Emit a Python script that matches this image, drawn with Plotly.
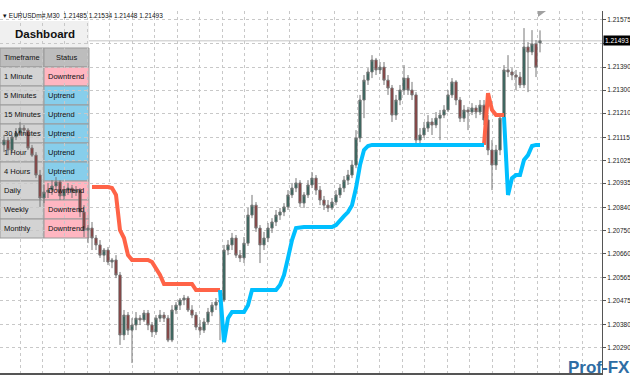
import plotly.graph_objects as go

symbol = "EURUSDm#,M30"

timeframes = ["1 Minute", "5 Minutes", "15 Minutes", "30 Minutes", "1 Hour",
              "4 Hours", "Daily", "Weekly", "Monthly"]
statuses = ["Downtrend", "Uptrend", "Uptrend", "Uptrend", "Uptrend",
            "Uptrend", "Downtrend", "Downtrend", "Downtrend"]

open_ = [1.21085, 1.21104, 1.21065, 1.21116, 1.21132, 1.21151, 1.21143, 1.21073, 1.21045, 1.20967,
         1.20877, 1.20900, 1.20908, 1.20924, 1.20940, 1.20885, 1.20908, 1.20916, 1.20900, 1.20908,
         1.20822, 1.20751, 1.20759, 1.20720, 1.20693, 1.20653, 1.20673, 1.20626, 1.20634, 1.20575,
         1.20340, 1.20418, 1.20359, 1.20379, 1.20406, 1.20399, 1.20426, 1.20379, 1.20352, 1.20406,
         1.20418, 1.20406, 1.20320, 1.20438, 1.20457, 1.20477, 1.20485, 1.20438, 1.20418, 1.20371,
         1.20359, 1.20391, 1.20430, 1.20457, 1.20469, 1.20477, 1.20673, 1.20693, 1.20720, 1.20653,
         1.20642, 1.20700, 1.20810, 1.20849, 1.20759, 1.20693, 1.20720, 1.20759, 1.20783, 1.20810,
         1.20822, 1.20842, 1.20889, 1.20916, 1.20936, 1.20857, 1.20889, 1.20928, 1.20955, 1.20908,
         1.20869, 1.20849, 1.20838, 1.20861, 1.20889, 1.20916, 1.20947, 1.20967, 1.21006, 1.21112,
         1.21261, 1.21339, 1.21371, 1.21418, 1.21379, 1.21390, 1.21339, 1.21308, 1.21202, 1.21261,
         1.21300, 1.21347, 1.21300, 1.21281, 1.21104, 1.21124, 1.21151, 1.21175, 1.21163, 1.21190,
         1.21202, 1.21222, 1.21281, 1.21332, 1.21261, 1.21190, 1.21222, 1.21214, 1.21230, 1.21214,
         1.21241, 1.21183, 1.21065, 1.21006, 1.21065, 1.21190, 1.21379, 1.21371, 1.21359, 1.21351,
         1.21320, 1.21469, 1.21449, 1.21481, 1.21485]
high = [1.21124, 1.21116, 1.21124, 1.21151, 1.21175, 1.21163, 1.21151, 1.21085, 1.21057, 1.20987,
        1.20928, 1.20936, 1.20947, 1.20959, 1.20947, 1.20924, 1.20936, 1.20928, 1.20924, 1.20916,
        1.20849, 1.20771, 1.20783, 1.20732, 1.20712, 1.20681, 1.20685, 1.20642, 1.20653, 1.20587,
        1.20438, 1.20430, 1.20406, 1.20430, 1.20418, 1.20438, 1.20438, 1.20391, 1.20418, 1.20438,
        1.20430, 1.20418, 1.20457, 1.20469, 1.20485, 1.20497, 1.20493, 1.20457, 1.20430, 1.20399,
        1.20406, 1.20446, 1.20469, 1.20485, 1.20493, 1.20693, 1.20712, 1.20740, 1.20732, 1.20673,
        1.20724, 1.20838, 1.20889, 1.20861, 1.20771, 1.20744, 1.20779, 1.20798, 1.20830, 1.20838,
        1.20857, 1.20908, 1.20936, 1.20955, 1.20947, 1.20900, 1.20947, 1.20979, 1.20967, 1.20924,
        1.20885, 1.20869, 1.20877, 1.20908, 1.20932, 1.20963, 1.20987, 1.21026, 1.21143, 1.21281,
        1.21359, 1.21386, 1.21437, 1.21426, 1.21410, 1.21410, 1.21359, 1.21320, 1.21281, 1.21320,
        1.21398, 1.21359, 1.21332, 1.21292, 1.21151, 1.21175, 1.21202, 1.21190, 1.21214, 1.21222,
        1.21241, 1.21300, 1.21347, 1.21339, 1.21273, 1.21241, 1.21234, 1.21249, 1.21241, 1.21261,
        1.21261, 1.21202, 1.21104, 1.21085, 1.21202, 1.21398, 1.21437, 1.21386, 1.21379, 1.21371,
        1.21543, 1.21488, 1.21535, 1.21496, 1.21534]
low = [1.21057, 1.21045, 1.21057, 1.21104, 1.21124, 1.21124, 1.21065, 1.21038, 1.20955, 1.20842,
       1.20857, 1.20877, 1.20889, 1.20908, 1.20869, 1.20869, 1.20889, 1.20877, 1.20885, 1.20802,
       1.20724, 1.20700, 1.20673, 1.20673, 1.20642, 1.20626, 1.20614, 1.20602, 1.20563, 1.20301,
       1.20320, 1.20340, 1.20230, 1.20359, 1.20379, 1.20391, 1.20359, 1.20332, 1.20340, 1.20391,
       1.20391, 1.20312, 1.20312, 1.20422, 1.20438, 1.20457, 1.20430, 1.20406, 1.20359, 1.20340,
       1.20348, 1.20379, 1.20414, 1.20438, 1.20320, 1.20469, 1.20653, 1.20673, 1.20642, 1.20626,
       1.20622, 1.20689, 1.20798, 1.20744, 1.20622, 1.20673, 1.20704, 1.20740, 1.20767, 1.20791,
       1.20806, 1.20830, 1.20877, 1.20900, 1.20842, 1.20838, 1.20877, 1.20916, 1.20889, 1.20849,
       1.20830, 1.20822, 1.20830, 1.20849, 1.20877, 1.20900, 1.20928, 1.20955, 1.20994, 1.21096,
       1.21190, 1.21320, 1.21347, 1.21359, 1.21363, 1.21320, 1.21281, 1.21175, 1.21183, 1.21241,
       1.21281, 1.21281, 1.21261, 1.21077, 1.21085, 1.21112, 1.21136, 1.21124, 1.21151, 1.21104,
       1.21190, 1.21214, 1.21269, 1.21241, 1.21175, 1.21175, 1.21143, 1.21202, 1.21190, 1.21202,
       1.21163, 1.21045, 1.20908, 1.20987, 1.21045, 1.21183, 1.21351, 1.21339, 1.21300, 1.21308,
       1.21308, 1.21292, 1.21437, 1.21351, 1.21448]
close = [1.21104, 1.21065, 1.21116, 1.21132, 1.21151, 1.21143, 1.21073, 1.21045, 1.20967, 1.20877,
         1.20900, 1.20908, 1.20924, 1.20940, 1.20885, 1.20908, 1.20916, 1.20900, 1.20908, 1.20822,
         1.20751, 1.20759, 1.20720, 1.20693, 1.20653, 1.20673, 1.20626, 1.20634, 1.20575, 1.20340,
         1.20418, 1.20359, 1.20379, 1.20406, 1.20399, 1.20426, 1.20379, 1.20352, 1.20406, 1.20418,
         1.20406, 1.20320, 1.20438, 1.20457, 1.20477, 1.20485, 1.20438, 1.20418, 1.20371, 1.20359,
         1.20391, 1.20430, 1.20457, 1.20469, 1.20477, 1.20673, 1.20693, 1.20720, 1.20653, 1.20642,
         1.20700, 1.20810, 1.20849, 1.20759, 1.20693, 1.20720, 1.20759, 1.20783, 1.20810, 1.20822,
         1.20842, 1.20889, 1.20916, 1.20936, 1.20857, 1.20889, 1.20928, 1.20955, 1.20908, 1.20869,
         1.20849, 1.20838, 1.20861, 1.20889, 1.20916, 1.20947, 1.20967, 1.21006, 1.21112, 1.21261,
         1.21339, 1.21371, 1.21418, 1.21379, 1.21390, 1.21339, 1.21308, 1.21202, 1.21261, 1.21300,
         1.21347, 1.21300, 1.21281, 1.21104, 1.21124, 1.21151, 1.21175, 1.21163, 1.21190, 1.21202,
         1.21222, 1.21281, 1.21332, 1.21261, 1.21190, 1.21222, 1.21214, 1.21230, 1.21214, 1.21241,
         1.21183, 1.21065, 1.21006, 1.21065, 1.21190, 1.21379, 1.21371, 1.21359, 1.21351, 1.21320,
         1.21469, 1.21449, 1.21481, 1.21390, 1.21493]

N = len(close)
st_down = [None] * 22 + [1.20920, 1.20920, 1.20920, 1.20920, 1.20920, 1.20916, 1.20889, 1.20751,
           1.20720, 1.20653, 1.20634, 1.20634, 1.20634, 1.20634, 1.20634, 1.20626, 1.20602, 1.20575,
           1.20540, 1.20540, 1.20540, 1.20540, 1.20540, 1.20540, 1.20540, 1.20540, 1.20516, 1.20516,
           1.20516, 1.20516, 1.20516, 1.20516, 1.20516] \
    + [None] * 65 + [1.21085, 1.21288, 1.21222, 1.21202, 1.21202, 1.21202] + [None] * 9
st_up = [None] * 54 + [1.20516, 1.20312, 1.20406, 1.20430, 1.20430, 1.20430, 1.20430, 1.20457,
         1.20516, 1.20516, 1.20516, 1.20516, 1.20516, 1.20516, 1.20516, 1.20536, 1.20575, 1.20642,
         1.20712, 1.20759, 1.20763, 1.20763, 1.20763, 1.20763, 1.20763, 1.20763, 1.20763, 1.20763,
         1.20763, 1.20771, 1.20791, 1.20806, 1.20822, 1.20849, 1.20916, 1.21006, 1.21065, 1.21081] \
    + [1.21085] * 29 + [None] * 4 + [1.21194, 1.20889, 1.20955, 1.20967, 1.20967, 1.21026, 1.21045,
                                      1.21081, 1.21085, 1.21085]

price_ticks = [1.21575, 1.21483, 1.21390, 1.21300, 1.21210, 1.21115, 1.21025, 1.20935,
               1.20840, 1.20750, 1.20660, 1.20565, 1.20475, 1.20380, 1.20290]
price_labels = ["1.21575", "", "1.21390", "1.21300", "1.21210", "1.21115", "1.21025", "1.20935",
                "1.20840", "1.20750", "1.20660", "1.20565", "1.20475", "1.20380", "1.20290"]

bars = list(range(N))

W, H = 630, 380
ML, MR, MT, MB = 0, 28, 11, 7
PW, PH = W - ML - MR, H - MT - MB
FONT = "Liberation Sans, Arial"


def px(x):
    return x / PW


def py(y):
    return (H - MB - y) / PH


fig = go.Figure()
fig.add_trace(go.Candlestick(
    x=bars, open=open_, high=high, low=low, close=close,
    increasing=dict(fillcolor="#1e5d52", line=dict(color="#777777", width=1)),
    decreasing=dict(fillcolor="#8c2d2d", line=dict(color="#777777", width=1)),
    whiskerwidth=0, showlegend=False, hoverinfo="skip"))
fig.add_trace(go.Scatter(x=bars, y=st_down, mode="lines", line=dict(color="#ff6347", width=4),
                         connectgaps=False, showlegend=False, hoverinfo="skip"))
fig.add_trace(go.Scatter(x=bars, y=st_up, mode="lines", line=dict(color="#00bfff", width=4),
                         connectgaps=False, showlegend=False, hoverinfo="skip"))

shapes = []
annotations = []


def label(x, y, text, size, xanchor="left", color="#111", **kw):
    annotations.append(dict(xref="paper", yref="paper", x=px(x), y=py(y), text=text,
                            showarrow=False, xanchor=xanchor, yanchor="middle",
                            font=dict(family=FONT, size=size, color=color), **kw))


# current price line
shapes.append(dict(type="line", xref="paper", x0=0, x1=1, yref="y", y0=close[-1], y1=close[-1],
                   line=dict(color="#c4c4c4", width=1), layer="between"))
# chart-shift marker
shapes.append(dict(type="path", xref="paper", yref="paper",
                   path="M %f %f L %f %f L %f %f Z" % (px(538), py(11), px(546), py(11), px(538), py(17)),
                   fillcolor="#a0a0a0", line=dict(width=0), layer="above"))

# dashboard
col1, col2, col3 = 0, 44, 89
top_box, top_hdr, rowh = 21, 48, 19
shapes.append(dict(type="rect", xref="paper", yref="paper", x0=px(col1), x1=px(col3),
                   y0=py(top_hdr), y1=py(top_box), fillcolor="#f0f0f0", line=dict(width=0),
                   layer="between"))
label((col1 + col3) / 2, 34.5, "<b>Dashboard</b>", 11.5, xanchor="center")
border = dict(color="#9a9a9a", width=1)
for c0, c1, txt in [(col1, col2, "Timeframe"), (col2, col3, "Status")]:
    shapes.append(dict(type="rect", xref="paper", yref="paper", x0=px(c0), x1=px(c1),
                       y0=py(top_hdr + rowh), y1=py(top_hdr), fillcolor="#bdbdbd",
                       line=border, layer="between"))
    label((c0 + c1) / 2, top_hdr + rowh / 2, txt, 7.5, xanchor="center")
for k, (tf, st) in enumerate(zip(timeframes, statuses)):
    y0 = top_hdr + rowh * (k + 1)
    y1 = y0 + rowh
    shapes.append(dict(type="rect", xref="paper", yref="paper", x0=px(col1), x1=px(col2),
                       y0=py(y1), y1=py(y0), fillcolor="#d3d3d3", line=border, layer="between"))
    shapes.append(dict(type="rect", xref="paper", yref="paper", x0=px(col2), x1=px(col3),
                       y0=py(y1), y1=py(y0),
                       fillcolor="#ffb6c1" if st == "Downtrend" else "#87ceeb",
                       line=border, layer="between"))
    label(col1 + 2, y0 + rowh / 2, tf, 7.5)
    label(col2 + 2, y0 + rowh / 2, st, 7.5)

# header line
label(1, 15.5, "▾ %s  %.5f %.5f %.5f %.5f" % (symbol, open_[-1], high[-1], low[-1], close[-1]), 6.5)
# current price label
annotations.append(dict(xref="paper", yref="y", x=1, y=close[-1], xanchor="left", yanchor="middle",
                        text="%.5f" % close[-1], showarrow=False, bgcolor="#000000",
                        borderpad=1, xshift=1,
                        font=dict(family=FONT, size=6.5, color="#ffffff")))
# watermark
label(566, 367, "<b>Prof-FX</b>", 17, color="#2e6da4")

fig.update_layout(
    width=W, height=H, margin=dict(l=ML, r=MR, t=MT, b=MB),
    paper_bgcolor="#ffffff", plot_bgcolor="#ffffff", boxgap=0.2,
    shapes=shapes, annotations=annotations, showlegend=False,
    xaxis=dict(range=[-1, 149.5], rangeslider=dict(visible=False), showticklabels=False,
               tick0=4, dtick=5.62, showgrid=True, gridcolor="#c8c8c8", griddash="dot",
               gridwidth=1, zeroline=False, showline=True, linecolor="#555555", linewidth=2,
               ticks=""),
    yaxis=dict(range=[1.20191, 1.21610], side="right", tickmode="array", tickvals=price_ticks,
               ticktext=price_labels, showgrid=True, gridcolor="#c8c8c8", griddash="dot",
               gridwidth=1, zeroline=False, showline=True, linecolor="#555555", linewidth=1,
               ticks="outside", ticklen=3, tickcolor="#555555",
               tickfont=dict(family=FONT, size=6.5, color="#222")),
)

fig.write_html("out.html")
